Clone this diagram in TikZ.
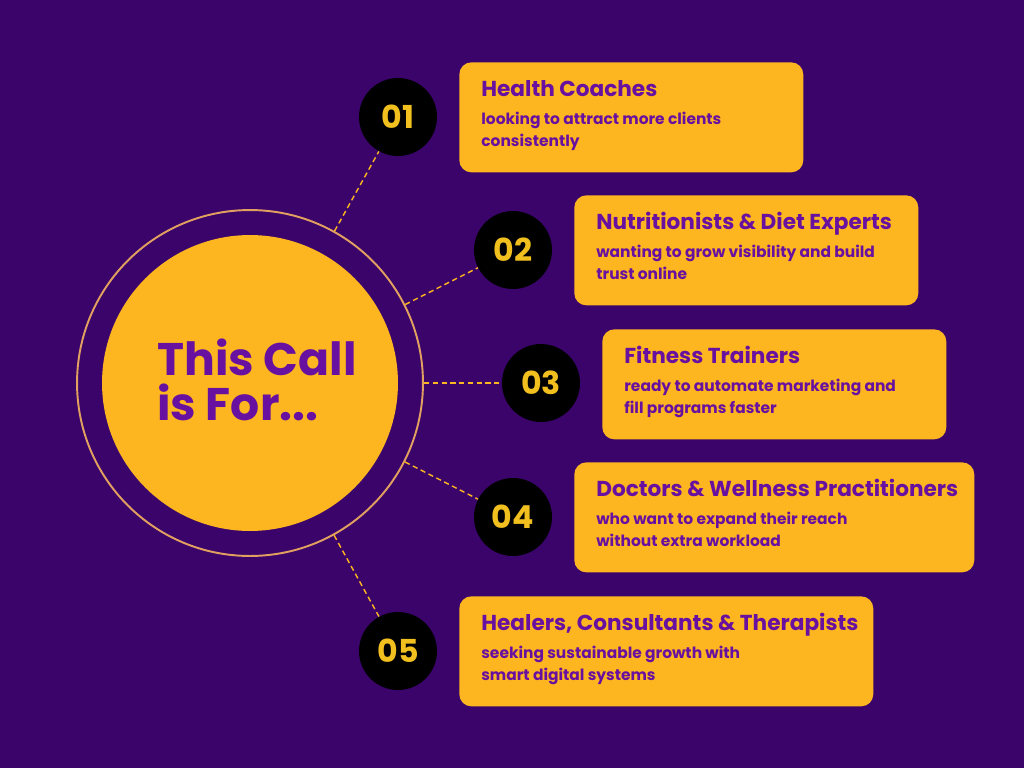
\documentclass[tikz,border=0pt]{standalone}
\usepackage{fontspec}
\setmainfont{Poppins}
\usepackage{tikz}
\usetikzlibrary{positioning,calc}
\definecolor{violetFond}{RGB}{58,4,106}
\definecolor{jauneBloc}{RGB}{253,181,32}
\definecolor{violetTexte}{RGB}{104,16,160}
\definecolor{orNum}{RGB}{242,192,30}
\definecolor{anneauOr}{RGB}{226,160,96}

\tikzset{
  numero/.style={circle,fill=black,minimum size=1.56cm,inner sep=0pt,
                 text=orNum,font=\fontsize{18}{20}\selectfont\bfseries},
  bloc/.style={rectangle,rounded corners=0.24cm,fill=jauneBloc,
               minimum height=2.2cm,anchor=north west,inner sep=0pt},
  entete/.style={anchor=base west,inner sep=0pt,text=violetTexte,
                 font=\fontsize{12.3}{14}\selectfont\bfseries},
  corps/.style={anchor=base west,inner sep=0pt,text=violetTexte,
                font=\fontsize{8.8}{10}\selectfont\bfseries},
  lien/.style={jauneBloc,line width=0.8pt,dash pattern=on 3pt off 2pt}
}

\begin{document}
\begin{tikzpicture}[x=0.02cm,y=-0.02cm]
  % Fond
  \fill[violetFond] (0,0) rectangle (1024,768);

  % Cercle central
  \node[circle,draw=anneauOr,line width=1.1pt,minimum size=6.92cm,inner sep=0pt]
    (anneau) at (250,383) {};
  \node[circle,fill=jauneBloc,minimum size=5.92cm,inner sep=0pt]
    (disque) at (250,383) {};
  \node[anchor=base west,inner sep=0pt,text=violetTexte,
        font=\fontsize{26}{26}\selectfont\bfseries] (titreA) at (157,375) {This Call};
  \node[anchor=base west,inner sep=0pt,text=violetTexte,
        font=\fontsize{26}{26}\selectfont\bfseries] (titreB) at (157,420) {is For...};

  % Cibles
  \foreach \i/\cx/\cy/\bx/\by/\bw/\titre/\la/\lb in {
    1/398/117/459/62/6.88/{Health Coaches}/{looking to attract more clients}/{consistently},
    2/513/250/574/195/6.88/{Nutritionists \& Diet Experts}/{wanting to grow visibility and build}/{trust online},
    3/541/383/602/329/6.88/{Fitness Trainers}/{ready to automate marketing and}/{fill programs faster},
    4/513/517/574/462/8.0/{Doctors \& Wellness Practitioners}/{who want to expand their reach}/{without extra workload},
    5/398/651/459/596/8.28/{Healers, Consultants \& Therapists}/{seeking sustainable growth with}/{smart digital systems}} {
    \node[numero] (num\i) at (\cx,\cy) {0\i};
    \draw[lien] (anneau) -- (num\i);
    \node[bloc,minimum width=\bw cm] (bloc\i) at (\bx,\by) {};
    \node[entete] (titre\i) at ($(bloc\i.north west)+(22,34)$) {\titre};
    \node[corps] (ligneA\i) at ($(bloc\i.north west)+(22,62)$) {\la};
    \node[corps] (ligneB\i) at ($(bloc\i.north west)+(22,84)$) {\lb};
  }
\end{tikzpicture}
\end{document}
